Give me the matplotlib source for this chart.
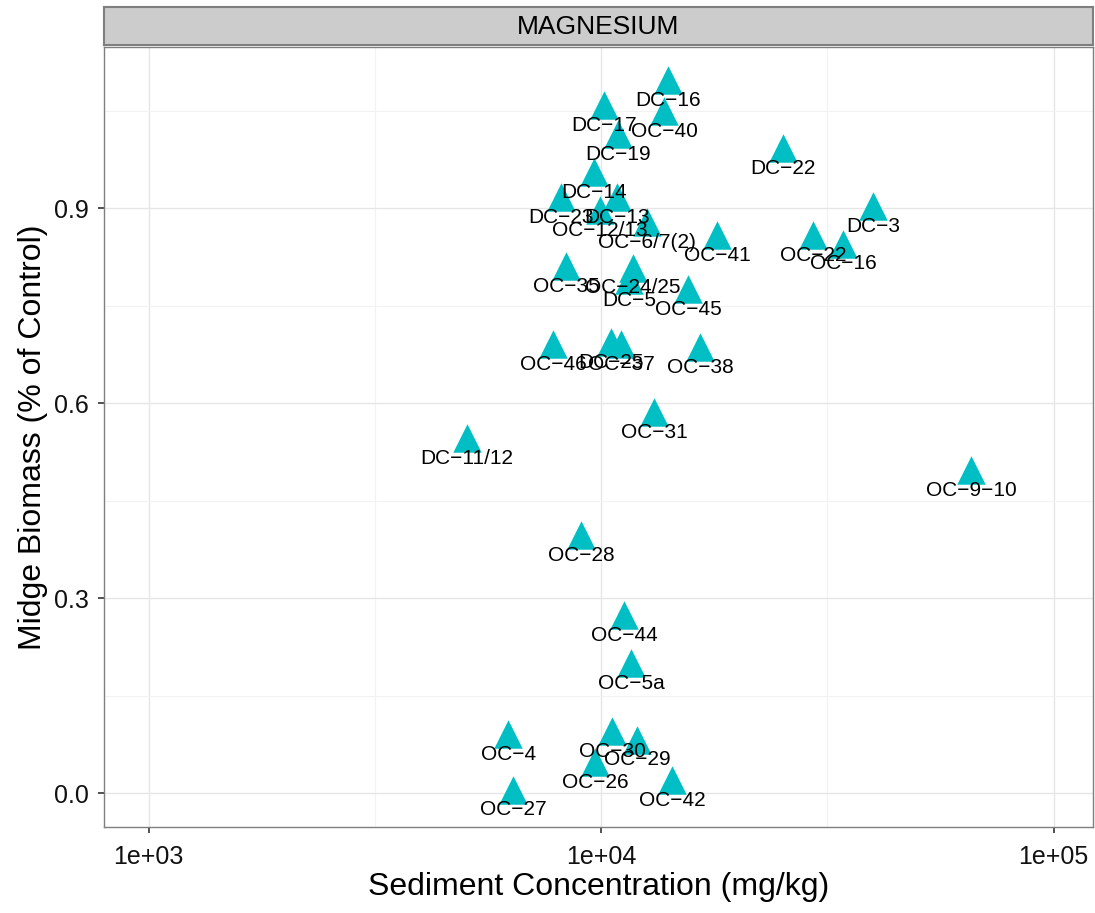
import numpy as np
import matplotlib
matplotlib.use("agg")
import matplotlib.pyplot as plt

plt.rcParams['font.family'] = ['Liberation Sans', 'DejaVu Sans']

# site labels, sediment concentration (mg/kg), midge biomass (% of control)
sites = ["DC-16", "DC-17", "OC-40", "DC-19", "DC-22", "DC-14", "DC-23", "DC-13",
         "OC-12/13", "OC-6/7(2)", "OC-41", "DC-3", "OC-22", "OC-16", "OC-35",
         "OC-24/25", "DC-5", "OC-45", "OC-46", "DC-25", "OC-37", "OC-38", "OC-31",
         "DC-11/12", "OC-9-10", "OC-28", "OC-44", "OC-5a", "OC-4", "OC-30",
         "OC-29", "OC-26", "OC-42", "OC-27"]
conc = [14070, 10150, 13780, 10900, 25230, 9650, 8160, 10850,
        9950, 12640, 18030, 39900, 29410, 34270, 8370,
        11770, 11530, 15570, 7830, 10520, 11070, 16550, 13100,
        5058, 65720, 9030, 11240, 11650, 6231, 10575,
        12010, 9700, 14360, 6390]
biomass = [1.097, 1.058, 1.049, 1.014, 0.992, 0.955, 0.917, 0.917,
           0.897, 0.878, 0.858, 0.903, 0.858, 0.845, 0.811,
           0.808, 0.789, 0.775, 0.691, 0.694, 0.691, 0.686, 0.586,
           0.546, 0.497, 0.397, 0.274, 0.200, 0.091, 0.095,
           0.082, 0.048, 0.020, 0.005]

W, H = 1095, 913
fig = plt.figure(figsize=(W / 100, H / 100), dpi=100)
ax = fig.add_axes([104 / W, 1 - 827 / H, (1093 - 104) / W, (827 - 47) / H])
strip = fig.add_axes([104 / W, 1 - 45 / H, (1093 - 104) / W, (45 - 7) / H])

ax.set_xscale("log")
ax.set_xlim(797, 122200)
ax.set_ylim(-0.052, 1.148)

# grid like theme_bw
ax.set_xticks([1e3, 1e4, 1e5])
ax.set_xticklabels(["1e+03", "1e+04", "1e+05"])
ax.set_xticks([10**3.5, 10**4.5], minor=True)
ax.xaxis.set_minor_formatter(matplotlib.ticker.NullFormatter())
ax.set_yticks([0.0, 0.3, 0.6, 0.9])
ax.set_yticklabels(["0.0", "0.3", "0.6", "0.9"])
ax.set_yticks([0.15, 0.45, 0.75, 1.05], minor=True)
ax.grid(True, which="major", color="#e6e6e6", lw=1.0)
ax.grid(True, which="minor", color="#f2f2f2", lw=0.8)
ax.set_axisbelow(True)
ax.tick_params(which="major", length=4, width=1.2, color="#333333", labelsize=18,
               labelcolor="#111111")
ax.tick_params(axis="x", which="major", pad=9)
ax.tick_params(axis="y", which="major", pad=7)
ax.tick_params(which="minor", length=0)
for s in ax.spines.values():
    s.set_color("#7f7f7f")
    s.set_linewidth(1.0)

ax.scatter(conc, biomass, marker="^", s=420, color="#00BFC4", linewidths=0, zorder=3)
for name, x, y in zip(sites, conc, biomass):
    ax.annotate(name.replace("-", "\u2212"), (x, y), xytext=(0, -20), textcoords="offset pixels",
                ha="center", va="center", fontsize=15, color="black", zorder=4)

ax.set_xlabel("Sediment Concentration (mg/kg)", fontsize=23, labelpad=2)
ax.set_ylabel("Midge Biomass (% of Control)", fontsize=23, labelpad=4)

strip.set_facecolor("#cccccc")
strip.set_xticks([])
strip.set_yticks([])
for s in strip.spines.values():
    s.set_color("#7f7f7f")
    s.set_linewidth(1.5)
strip.text(0.5, 0.48, "MAGNESIUM", ha="center", va="center", fontsize=19, transform=strip.transAxes)

fig.savefig("out.png", dpi=100)
